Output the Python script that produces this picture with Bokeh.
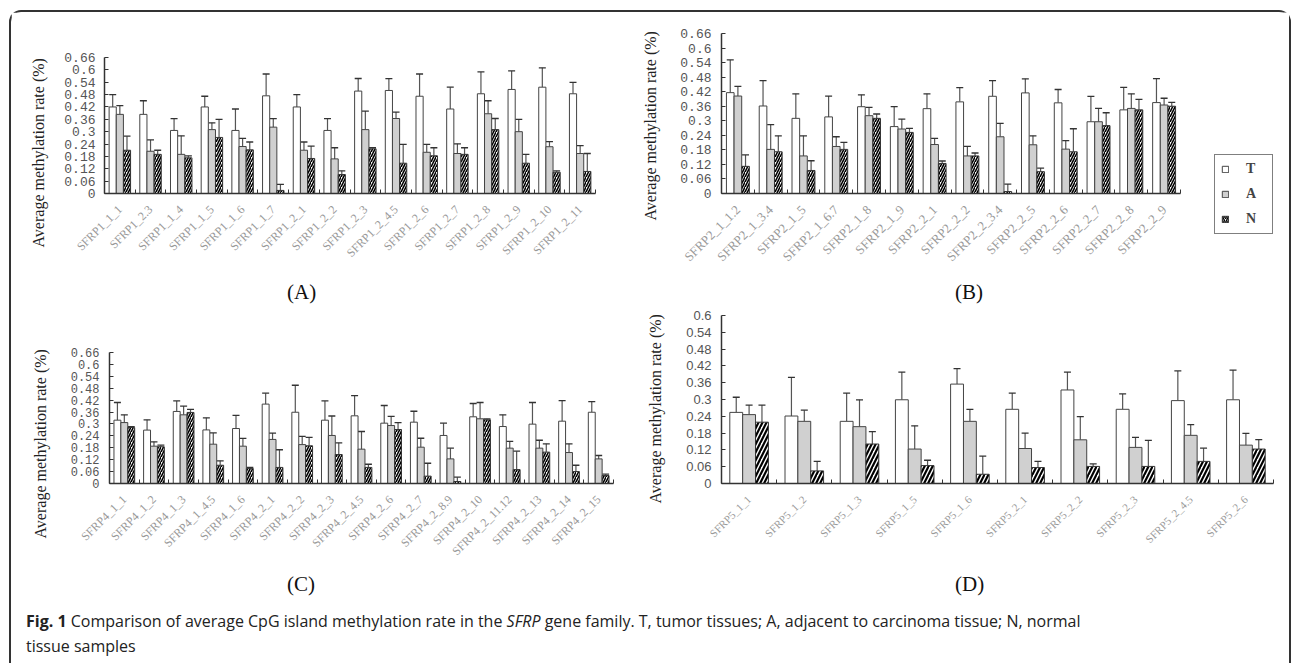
import numpy as np
from bokeh.plotting import figure
from bokeh.models import (Range1d, FixedTicker, ColumnDataSource, Whisker, TeeHead,
                          Title, Legend, LegendItem, Div)
from bokeh.layouts import column, row
from bokeh.transform import dodge
from bokeh.embed import file_html
from bokeh.resources import INLINE

# ---------------- data ----------------
cats_A = ["SFRP1_1_1", "SFRP1_2.3", "SFRP1_1_4", "SFRP1_1_5", "SFRP1_1_6", "SFRP1_1_7",
          "SFRP1_2_1", "SFRP1_2_2", "SFRP1_2_3", "SFRP1_2_4.5", "SFRP1_2_6", "SFRP1_2_7",
          "SFRP1_2_8", "SFRP1_2_9", "SFRP1_2_10", "SFRP1_2_11"]
T_A = [0.42, 0.384, 0.306, 0.42, 0.306, 0.474, 0.42, 0.306, 0.497, 0.50, 0.472, 0.41, 0.484, 0.505, 0.516, 0.484]
T_A_err = [0.48, 0.45, 0.363, 0.472, 0.41, 0.58, 0.48, 0.363, 0.558, 0.557, 0.58, 0.516, 0.59, 0.595, 0.61, 0.539]
A_A = [0.384, 0.205, 0.19, 0.31, 0.228, 0.322, 0.21, 0.168, 0.31, 0.364, 0.20, 0.194, 0.387, 0.30, 0.227, 0.194]
A_A_err = [0.426, 0.26, 0.28, 0.343, 0.268, 0.363, 0.25, 0.222, 0.40, 0.395, 0.238, 0.241, 0.45, 0.36, 0.252, 0.232]
N_A = [0.21, 0.19, 0.173, 0.272, 0.212, 0.015, 0.17, 0.092, 0.217, 0.147, 0.183, 0.19, 0.31, 0.147, 0.103, 0.107]
N_A_err = [0.278, 0.21, 0.183, 0.36, 0.25, 0.044, 0.23, 0.11, 0.223, 0.238, 0.222, 0.222, 0.364, 0.19, 0.11, 0.194]

cats_B = ["SFRP2_1_1.2", "SFRP2_1_3.4", "SFRP2_1_5", "SFRP2_1_6.7", "SFRP2_1_8", "SFRP2_1_9",
          "SFRP2_2_1", "SFRP2_2_2", "SFRP2_2_3.4", "SFRP2_2_5", "SFRP2_2_6", "SFRP2_2_7",
          "SFRP2_2_8", "SFRP2_2_9"]
T_B = [0.416, 0.361, 0.31, 0.316, 0.358, 0.276, 0.35, 0.378, 0.401, 0.415, 0.374, 0.296, 0.345, 0.375]
T_B_err = [0.551, 0.466, 0.411, 0.402, 0.407, 0.358, 0.411, 0.437, 0.466, 0.473, 0.429, 0.401, 0.438, 0.474]
A_B = [0.402, 0.182, 0.155, 0.194, 0.321, 0.266, 0.202, 0.155, 0.234, 0.201, 0.183, 0.296, 0.351, 0.365]
A_B_err = [0.442, 0.284, 0.238, 0.234, 0.355, 0.307, 0.227, 0.194, 0.289, 0.238, 0.218, 0.351, 0.411, 0.393]
N_B = [0.112, 0.172, 0.095, 0.182, 0.31, 0.252, 0.124, 0.155, 0.008, 0.09, 0.172, 0.28, 0.345, 0.36]
N_B_err = [0.159, 0.238, 0.135, 0.211, 0.328, 0.269, 0.134, 0.167, 0.039, 0.105, 0.267, 0.333, 0.388, 0.376]

cats_C = ["SFRP4_1_1", "SFRP4_1_2", "SFRP4_1_3", "SFRP4_1_4.5", "SFRP4_1_6", "SFRP4_2_1",
          "SFRP4_2_2", "SFRP4_2_3", "SFRP4_2_4.5", "SFRP4_2_6", "SFRP4_2_7", "SFRP4_2_8.9",
          "SFRP4_2_10", "SFRP4_2_11.12", "SFRP4_2_13", "SFRP4_2_14", "SFRP4_2_15"]
T_C = [0.319, 0.269, 0.363, 0.27, 0.277, 0.40, 0.359, 0.319, 0.341, 0.304, 0.309, 0.242, 0.336, 0.287, 0.299, 0.314, 0.359]
T_C_err = [0.408, 0.321, 0.416, 0.331, 0.343, 0.455, 0.495, 0.416, 0.443, 0.393, 0.364, 0.304, 0.403, 0.346, 0.408, 0.418, 0.413]
A_C = [0.307, 0.188, 0.346, 0.198, 0.188, 0.222, 0.196, 0.242, 0.173, 0.292, 0.183, 0.124, 0.326, 0.178, 0.178, 0.156, 0.124]
A_C_err = [0.346, 0.21, 0.39, 0.255, 0.227, 0.254, 0.237, 0.34, 0.262, 0.338, 0.228, 0.178, 0.408, 0.212, 0.218, 0.2, 0.141]
N_C = [0.282, 0.185, 0.358, 0.092, 0.076, 0.081, 0.19, 0.146, 0.081, 0.272, 0.037, 0.01, 0.321, 0.07, 0.158, 0.06, 0.04]
N_C_err = [0.287, 0.193, 0.373, 0.114, 0.081, 0.17, 0.232, 0.205, 0.097, 0.307, 0.102, 0.032, 0.326, 0.163, 0.2, 0.092, 0.047]

cats_D = ["SFRP5_1_1", "SFRP5_1_2", "SFRP5_1_3", "SFRP5_1_5", "SFRP5_1_6",
          "SFRP5_2_1", "SFRP5_2_2", "SFRP5_2_3", "SFRP5_2_4.5", "SFRP5_2_6"]
T_D = [0.254, 0.241, 0.222, 0.299, 0.355, 0.265, 0.334, 0.265, 0.296, 0.299]
T_D_err = [0.308, 0.379, 0.323, 0.398, 0.41, 0.323, 0.398, 0.32, 0.402, 0.405]
A_D = [0.246, 0.222, 0.203, 0.123, 0.222, 0.125, 0.156, 0.129, 0.172, 0.137]
A_D_err = [0.28, 0.262, 0.299, 0.206, 0.265, 0.18, 0.239, 0.165, 0.21, 0.179]
N_D = [0.219, 0.045, 0.141, 0.064, 0.033, 0.057, 0.061, 0.061, 0.079, 0.123]
N_D_err = [0.28, 0.079, 0.185, 0.083, 0.098, 0.079, 0.07, 0.154, 0.126, 0.157]

y_ticks_066 = [0, 0.06, 0.12, 0.18, 0.24, 0.3, 0.36, 0.42, 0.48, 0.54, 0.6, 0.66]
y_labels_066 = ["0", "0.06", "0.12", "0.18", "0.24", "0.3", "0.36", "0.42", "0.48", "0.54", "0.6", "0.66"]
y_ticks_06 = [0, 0.06, 0.12, 0.18, 0.24, 0.3, 0.36, 0.42, 0.48, 0.54, 0.6]
y_labels_06 = ["0", "0.06", "0.12", "0.18", "0.24", "0.3", "0.36", "0.42", "0.48", "0.54", "0.6"]

series_names = ["T", "A", "N"]
panel_tags = ["(A)", "(B)", "(C)", "(D)"]
y_title = "Average methylation rate (%)"

SERIF = "'Liberation Serif'"
MONO = "'Liberation Mono'"
SANS = "'Liberation Sans'"

BW = 0.233
STYLE_T = dict(fill_color="white", line_color="#444", line_width=1)
STYLE_A = dict(fill_color="#d0d0d0", line_color="#444", line_width=1)
STYLE_N = dict(fill_color="white", line_color="#333", line_width=1,
               hatch_pattern="/", hatch_color="black")


def panel(cats, t, te, a, ae, n, ne, yticks, ylabels, cfg):
    k = len(cats)
    centers = [i + 0.5 for i in range(k)]
    src = ColumnDataSource(dict(x=centers, t=t, te=te, a=a, ae=ae, n=n, ne=ne))
    p = figure(width=cfg["w"], height=cfg["h"], x_range=Range1d(0, k),
               y_range=Range1d(0, yticks[-1]), output_backend="svg", toolbar_location=None,
               min_border_left=cfg["bl"], min_border_right=cfg["br"],
               min_border_top=cfg["bt"], min_border_bottom=cfg["bb"], frame_align=False)
    p.vbar(x=dodge("x", -BW), top="t", width=BW, source=src, **STYLE_T)
    p.vbar(x=dodge("x", 0), top="a", width=BW, source=src, **STYLE_A)
    p.vbar(x=dodge("x", BW), top="n", width=BW, source=src, hatch_weight=cfg["hw"],
           hatch_scale=cfg["hs"], **STYLE_N)
    for off, lo, hi in [(-BW, "t", "te"), (0, "a", "ae"), (BW, "n", "ne")]:
        p.add_layout(Whisker(base=dodge("x", off), lower=lo, upper=hi, source=src,
                             dimension="height", line_color="#555", line_width=1.2,
                             upper_head=TeeHead(size=7, line_color="#333", line_width=1.3),
                             lower_head=None))
    p.xgrid.visible = False
    p.ygrid.visible = False
    p.outline_line_color = None
    ya = p.yaxis[0]
    ya.ticker = FixedTicker(ticks=yticks)
    ya.major_label_overrides = {v: s for v, s in zip(yticks, ylabels)}
    ya.axis_line_color = "#333"
    ya.axis_line_width = 1.5
    ya.major_tick_in = 4
    ya.major_tick_out = 0
    ya.major_tick_line_color = "#333"
    ya.minor_tick_line_color = None
    ya.major_label_text_font = cfg["yfont"]
    ya.major_label_text_font_size = cfg["yfs"]
    ya.major_label_text_color = "#555"
    ya.major_label_standoff = cfg["ystand"]
    xa = p.xaxis[0]
    xa.ticker = FixedTicker(ticks=centers, minor_ticks=list(range(k + 1)))
    xa.major_label_overrides = {c: s for c, s in zip(centers, cats)}
    xa.axis_line_color = "#333"
    xa.axis_line_width = 1.5
    xa.major_tick_line_color = None
    xa.minor_tick_in = 4
    xa.minor_tick_out = 0
    xa.minor_tick_line_color = "#333"
    xa.major_label_orientation = np.pi / 4
    xa.major_label_text_font = SERIF
    xa.major_label_text_font_size = cfg["xfs"]
    xa.major_label_text_color = "#999"
    xa.major_label_standoff = 8
    p.add_layout(Title(text=y_title, align="left", offset=cfg["toff"], standoff=cfg["tst"],
                       text_font=SERIF, text_font_size="16px",
                       text_font_style="normal", text_color="#222"), "left")
    return p


pA = panel(cats_A, T_A, T_A_err, A_A, A_A_err, N_A, N_A_err, y_ticks_066, y_labels_066,
           dict(w=609, h=265, bl=93, br=25, bt=45, bb=84, hw=1.6, hs=5,
                yfont=MONO, yfs="13px", ystand=9, xfs="12px",
                toff=-54, tst=30))
pB = panel(cats_B, T_B, T_B_err, A_B, A_B_err, N_B, N_B_err, y_ticks_066, y_labels_066,
           dict(w=576, h=265, bl=99, br=16, bt=21, bb=84, hw=1.6, hs=5,
                yfont=MONO, yfs="13px", ystand=10, xfs="13px",
                toff=-27, tst=38))
pC = panel(cats_C, T_C, T_C_err, A_C, A_C_err, N_C, N_C_err, y_ticks_066, y_labels_066,
           dict(w=614, h=260, bl=97, br=12, bt=45, bb=84, hw=1.6, hs=5,
                yfont=MONO, yfs="12px", ystand=10, xfs="12px",
                toff=-55, tst=37))
pD = panel(cats_D, T_D, T_D_err, A_D, A_D_err, N_D, N_D_err, y_ticks_06, y_labels_06,
           dict(w=664, h=260, bl=94, br=16, bt=8, bb=84, hw=2.2, hs=8,
                yfont=SANS, yfs="13px", ystand=10, xfs="11px",
                toff=-20, tst=39))

# legend panel (keys only; key glyph sources sit outside the visible range)
pL = figure(width=93, height=265, x_range=Range1d(0, 1), y_range=Range1d(0, 1),
            x_axis_type=None, y_axis_type=None, output_backend="svg", toolbar_location=None,
            min_border=0, frame_align=False)
pL.xgrid.visible = False
pL.ygrid.visible = False
pL.outline_line_color = None
key_src = ColumnDataSource(dict(x=[-5], top=[-5]))
keys = [pL.vbar(x="x", top="top", width=0.1, source=key_src, **STYLE_T),
        pL.vbar(x="x", top="top", width=0.1, source=key_src, **STYLE_A),
        pL.vbar(x="x", top="top", width=0.1, source=key_src, hatch_weight=1.4, hatch_scale=4,
                **STYLE_N)]
legend = Legend(items=[LegendItem(label=nm, renderers=[r]) for nm, r in zip(series_names, keys)],
                location=(18, 43), border_line_color="black", border_line_width=1,
                background_fill_color="white", padding=6, margin=0, spacing=9,
                label_height=14, glyph_height=8, glyph_width=8, label_standoff=17,
                label_width=20, label_text_font=SERIF,
                label_text_font_style="bold", label_text_font_size="14px")
pL.add_layout(legend)


def tag_div(text, width, height, pad):
    return Div(text=(f"<div style=\"font-family:'Liberation Serif';font-size:21px;"
                     f"line-height:{height}px;padding-left:{pad}px;color:#111\">{text}</div>"),
               width=width, height=height, margin=0)


tags_top = row(tag_div(panel_tags[0], 609, 30, 276), tag_div(panel_tags[1], 669, 30, 335))
tags_bot = row(tag_div(panel_tags[2], 614, 34, 276), tag_div(panel_tags[3], 664, 34, 330))

caption = Div(
    text=("<div style=\"font-family:'Open Sans';font-size:16px;line-height:25px;"
          "padding:8px 0 0 15px;color:#222;white-space:nowrap\">"
          "<b>Fig. 1</b> Comparison of average CpG island methylation rate in the "
          "<i>SFRP</i> gene family. T, tumor tissues; A, adjacent to carcinoma tissue; N, normal"
          "<br>tissue samples</div>"),
    width=1278, height=62, margin=0)

layout = column(row(pA, pB, pL), tags_top, row(pC, pD), tags_bot, caption,
                styles={"border": "2px solid #333", "border-bottom": "none",
                        "border-radius": "12px 12px 0 0",
                        "margin-left": "9px", "margin-top": "10px"})

open("out.html", "w").write(file_html(layout, INLINE))
